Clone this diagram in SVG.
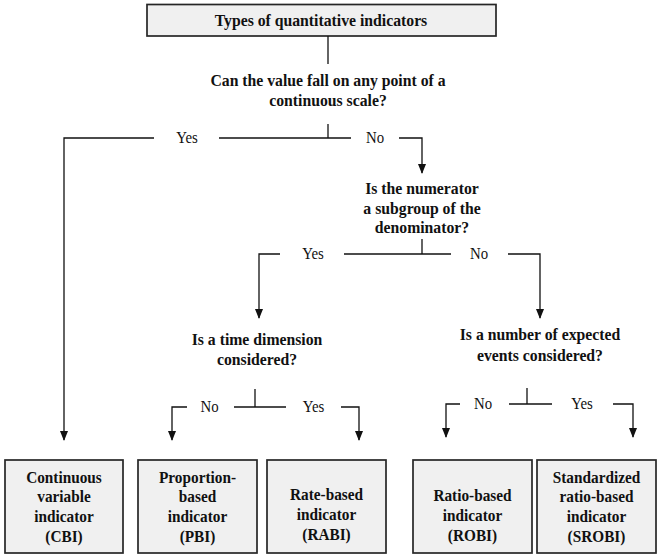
<svg xmlns="http://www.w3.org/2000/svg" width="660" height="558" viewBox="0 0 660 558">
<style>
  .box { fill: #f0f0f0; stroke: #262626; stroke-width: 1.7; }
  .t { font-family: "Liberation Serif", "Times New Roman", serif; font-weight: bold; fill: #111; text-anchor: middle; }
  .title { font-size: 17.5px; }
  .q { font-size: 17.5px; }
  .b { font-size: 17px; }
  .lbl { font-family: "Liberation Serif", "Times New Roman", serif; font-size: 16.5px; fill: #111; text-anchor: middle; }
  .ln { fill: none; stroke: #111; stroke-width: 1.3; }
</style>
<defs>
  <marker id="arr" viewBox="0 0 10 8" refX="9" refY="4" markerWidth="10" markerHeight="8" markerUnits="userSpaceOnUse" orient="auto">
    <path d="M0,0 L10,4 L0,8 z" fill="#111"/>
  </marker>
</defs>
<rect width="660" height="558" fill="#ffffff"/>

<g id="title">
  <rect class="box" x="147" y="4.5" width="349" height="31.5"/>
  <g transform="scale(0.9,1)">
    <text class="t title" x="356.67" y="26">Types of quantitative indicators</text>
  </g>
</g>

<g id="q1">
  <g transform="scale(0.9,1)">
    <text class="t q" x="364.44" y="86">Can the value fall on any point of a</text>
    <text class="t q" x="364.44" y="106">continuous scale?</text>
  </g>
</g>

<g id="q2">
  <g transform="scale(0.9,1)">
    <text class="t q" x="468.89" y="194">Is the numerator</text>
    <text class="t q" x="468.89" y="214">a subgroup of the</text>
    <text class="t q" x="468.89" y="233.5">denominator?</text>
  </g>
</g>

<g id="q3">
  <g transform="scale(0.9,1)">
    <text class="t q" x="285.56" y="345">Is a time dimension</text>
    <text class="t q" x="285.56" y="365">considered?</text>
  </g>
</g>

<g id="q4">
  <g transform="scale(0.9,1)">
    <text class="t q" x="600" y="340">Is a number of expected</text>
    <text class="t q" x="600" y="361">events considered?</text>
  </g>
</g>

<g id="cbi">
  <rect class="box" x="5" y="460" width="118" height="93"/>
  <g transform="scale(0.9,1)">
    <text class="t b" x="71.11" y="483">Continuous</text>
    <text class="t b" x="71.11" y="502.5">variable</text>
    <text class="t b" x="71.11" y="522">indicator</text>
    <text class="t b" x="71.11" y="542">(CBI)</text>
  </g>
</g>

<g id="pbi">
  <rect class="box" x="138" y="460" width="119" height="93"/>
  <g transform="scale(0.9,1)">
    <text class="t b" x="219.44" y="483">Proportion-</text>
    <text class="t b" x="219.44" y="502.5">based</text>
    <text class="t b" x="219.44" y="522">indicator</text>
    <text class="t b" x="219.44" y="542">(PBI)</text>
  </g>
</g>

<g id="rabi">
  <rect class="box" x="267" y="460" width="119" height="93"/>
  <g transform="scale(0.9,1)">
    <text class="t b" x="362.78" y="500">Rate-based</text>
    <text class="t b" x="362.78" y="520">indicator</text>
    <text class="t b" x="362.78" y="540">(RABI)</text>
  </g>
</g>

<g id="robi">
  <rect class="box" x="413" y="460" width="119" height="93"/>
  <g transform="scale(0.9,1)">
    <text class="t b" x="525" y="501">Ratio-based</text>
    <text class="t b" x="525" y="521">indicator</text>
    <text class="t b" x="525" y="541">(ROBI)</text>
  </g>
</g>

<g id="srobi">
  <rect class="box" x="537" y="460" width="119" height="93"/>
  <g transform="scale(0.9,1)">
    <text class="t b" x="662.78" y="483">Standardized</text>
    <text class="t b" x="662.78" y="502.5">ratio-based</text>
    <text class="t b" x="662.78" y="522">indicator</text>
    <text class="t b" x="662.78" y="542">(SROBI)</text>
  </g>
</g>

<g id="connectors">
  <path class="ln" d="M328,36 V64"/>
  <path class="ln" d="M328,124 V138"/>
  <path class="ln" d="M154,138 H64 V440" marker-end="url(#arr)"/>
  <path class="ln" d="M219,138 H351"/>
  <path class="ln" d="M399,138 H422 V173" marker-end="url(#arr)"/>

  <path class="ln" d="M422,239 V254"/>
  <path class="ln" d="M280,254 H259 V318" marker-end="url(#arr)"/>
  <path class="ln" d="M344,254 H451"/>
  <path class="ln" d="M508,254 H540 V318" marker-end="url(#arr)"/>

  <path class="ln" d="M255,389 V407"/>
  <path class="ln" d="M187,407 H172 V440" marker-end="url(#arr)"/>
  <path class="ln" d="M234,407 H286"/>
  <path class="ln" d="M341,407 H359 V440" marker-end="url(#arr)"/>

  <path class="ln" d="M527,388 V404"/>
  <path class="ln" d="M460,404 H446 V437" marker-end="url(#arr)"/>
  <path class="ln" d="M509,404 H552"/>
  <path class="ln" d="M613,404 H633 V437" marker-end="url(#arr)"/>

  <g transform="scale(0.9,1)">
    <text class="lbl" x="207.78" y="143.5">Yes</text>
    <text class="lbl" x="416.67" y="143.5">No</text>
    <text class="lbl" x="347.78" y="259.5">Yes</text>
    <text class="lbl" x="532.22" y="259.5">No</text>
    <text class="lbl" x="232.78" y="412.5">No</text>
    <text class="lbl" x="348.33" y="412.5">Yes</text>
    <text class="lbl" x="536.67" y="409.5">No</text>
    <text class="lbl" x="646.67" y="409.5">Yes</text>
  </g>
</g>
</svg>
